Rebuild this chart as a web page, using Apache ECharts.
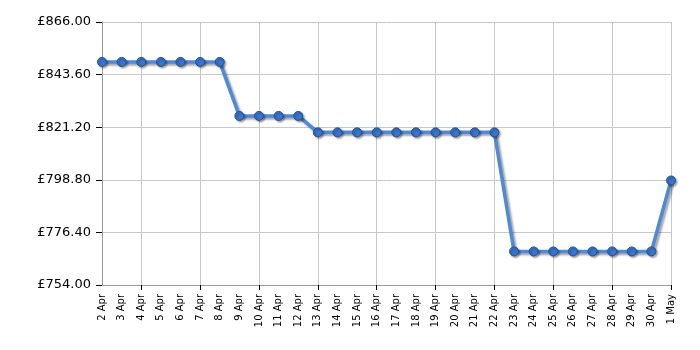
<!DOCTYPE html>
<html><head><meta charset="utf-8">
<script src="https://cdn.jsdelivr.net/npm/echarts@6/dist/echarts.min.js"></script>
<style>html,body{margin:0;padding:0;background:#fff}#c{width:700px;height:350px}</style>
</head><body><div id="c"></div>
<script>
const categories = ['2 Apr','3 Apr','4 Apr','5 Apr','6 Apr','7 Apr','8 Apr','9 Apr','10 Apr','11 Apr','12 Apr','13 Apr','14 Apr','15 Apr','16 Apr','17 Apr','18 Apr','19 Apr','20 Apr','21 Apr','22 Apr','23 Apr','24 Apr','25 Apr','26 Apr','27 Apr','28 Apr','29 Apr','30 Apr','1 May'];
const prices = [849,849,849,849,849,849,849,826,826,826,826,819,819,819,819,819,819,819,819,819,819,768.3,768.3,768.3,768.3,768.3,768.3,768.3,768.3,798.5];
const yMin = 754, yMax = 866, yStep = 22.4;

const chart = echarts.init(document.getElementById('c'), null, {renderer:'canvas'});
const every3 = (i) => i % 3 === 2;
chart.setOption({
  animation:false,
  grid:{left:102,right:29,top:22,bottom:65,containLabel:false},
  xAxis:{
    type:'category', data:categories, boundaryGap:false,
    axisLine:{lineStyle:{color:'#999',width:1}},
    axisTick:{show:true,interval:every3,length:5,lineStyle:{color:'#000'}},
    axisLabel:{interval:0,rotate:90,fontFamily:'DejaVu Sans',fontSize:10,color:'#000',margin:9},
    splitLine:{show:true,interval:every3,lineStyle:{color:'#c8c8c8',width:1}}
  },
  yAxis:{
    type:'value', min:yMin, max:yMax, interval:yStep,
    axisLine:{show:true,lineStyle:{color:'#999',width:1}},
    axisTick:{show:true,length:6,lineStyle:{color:'#000'}},
    axisLabel:{fontFamily:'DejaVu Sans',fontSize:13,color:'#000',margin:11,
      formatter:(v)=>'£'+v.toFixed(2)},
    splitLine:{show:true,lineStyle:{color:'#c8c8c8',width:1}}
  },
  series:[{
    type:'line', data:prices, symbol:'circle', symbolSize:9,
    lineStyle:{color:'#4f8ad8',width:3.5,shadowColor:'rgba(0,0,0,0.35)',shadowBlur:2,shadowOffsetX:2,shadowOffsetY:2},
    itemStyle:{color:'#3a74cc',borderColor:'#24508f',borderWidth:1,shadowColor:'rgba(0,0,0,0.35)',shadowBlur:2,shadowOffsetX:1.5,shadowOffsetY:1.5}
  }]
});
</script></body></html>
